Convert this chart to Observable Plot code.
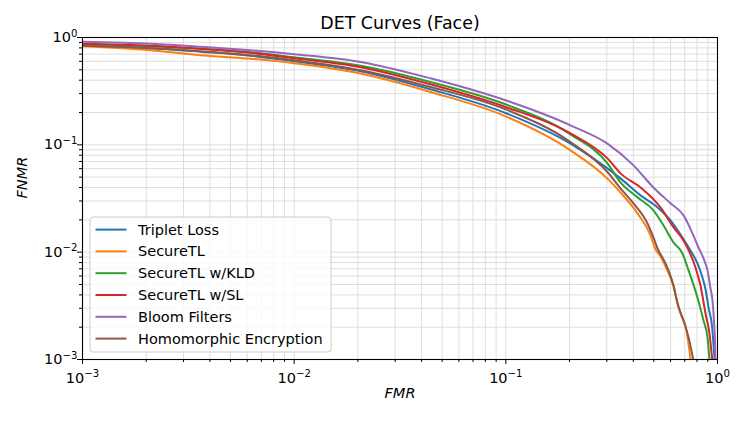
<!DOCTYPE html>
<html><head><meta charset="utf-8">
<script src="https://cdn.jsdelivr.net/npm/d3@7"></script>
<script src="https://cdn.jsdelivr.net/npm/@observablehq/plot@0.6"></script>
<style>
body{margin:0;background:#fff;}
#chart svg{font-family:"DejaVu Sans";}
</style>
</head><body><div id="chart"></div>
<script>
// ---- data ----
const seriesNames = ["Triplet Loss","SecureTL","SecureTL w/KLD","SecureTL w/SL","Bloom Filters","Homomorphic Encryption"];
const seriesColors = ["#1f77b4","#ff7f0e","#2ca02c","#d62728","#9467bd","#8c564b"];

const tripletFMR  = [0.001,0.0021,0.0036,0.0062,0.010,0.0206,0.044,0.0996,0.202,0.302,0.348,0.433,0.521,0.600,0.683,0.7455,0.804,0.849,0.878,0.907,0.944,0.968];
const tripletFNMR = [0.8386,0.7947,0.7372,0.6764,0.6011,0.4849,0.3294,0.1980,0.1026,0.0604,0.0487,0.0338,0.0261,0.0198,0.01371,0.01037,0.00785,0.00581,0.00449,0.00305,0.00198,0.001];

const secureFMR  = [0.001,0.0021,0.0036,0.0062,0.010,0.0206,0.044,0.0996,0.202,0.302,0.348,0.419,0.4825,0.510,0.538,0.580,0.613,0.640,0.669,0.714,0.7455];
const secureFNMR = [0.8295,0.7613,0.6837,0.6342,0.5757,0.4613,0.3109,0.1844,0.0889,0.0484,0.0360,0.0230,0.01432,0.01059,0.00912,0.00675,0.00510,0.00370,0.00268,0.00186,0.001];

const kldFMR  = [0.001,0.0021,0.0036,0.0062,0.010,0.0206,0.044,0.0996,0.202,0.302,0.348,0.419,0.498,0.556,0.620,0.683,0.722,0.804,0.859,0.897,0.9165];
const kldFNMR = [0.866,0.8295,0.786,0.7293,0.6549,0.5455,0.3853,0.2386,0.1253,0.0672,0.0447,0.0324,0.0245,0.0177,0.01231,0.00972,0.00720,0.00378,0.00231,0.00160,0.001];

const slFMR  = [0.001,0.0021,0.0036,0.0062,0.010,0.0206,0.044,0.0996,0.202,0.302,0.348,0.433,0.538,0.620,0.691,0.7455,0.787,0.831,0.878,0.9165,0.944];
const slFNMR = [0.875,0.8386,0.786,0.7215,0.6411,0.5283,0.3667,0.2252,0.1280,0.0748,0.0542,0.0401,0.0261,0.0170,0.01285,0.00952,0.00720,0.00489,0.00268,0.00174,0.001];

const bloomFMR  = [0.001,0.0021,0.0036,0.0062,0.010,0.0206,0.044,0.0996,0.202,0.302,0.401,0.498,0.600,0.691,0.762,0.813,0.859,0.897,0.927,0.947,0.9625,0.973,0.978];
const bloomFNMR = [0.914,0.875,0.821,0.761,0.699,0.592,0.417,0.260,0.152,0.1026,0.0644,0.0401,0.0285,0.0220,0.01494,0.01106,0.00874,0.00675,0.00459,0.00354,0.00231,0.00150,0.001];

const heFMR  = [0.001,0.0021,0.0036,0.0062,0.010,0.0206,0.044,0.0996,0.202,0.302,0.348,0.401,0.467,0.498,0.526,0.556,0.587,0.620,0.647,0.691,0.730,0.768];
const heFNMR = [0.8386,0.7947,0.7452,0.6837,0.6141,0.4955,0.3460,0.2144,0.1062,0.0558,0.0393,0.0285,0.0185,0.01371,0.01037,0.00855,0.00675,0.00489,0.00332,0.00231,0.00160,0.001];

const majorTicks = [0.001, 0.01, 0.1, 1];
const majorTickLabels = ["10^-3","10^-2","10^-1","10^0"];
const minorMultipliers = [2,3,4,5,6,7,8,9];

const titleText = "DET Curves (Face)";
const xLabel = "FMR";
const yLabel = "FNMR";

// ---- build tables ----
const seriesData = [
  [tripletFMR, tripletFNMR],
  [secureFMR, secureFNMR],
  [kldFMR, kldFNMR],
  [slFMR, slFNMR],
  [bloomFMR, bloomFNMR],
  [heFMR, heFNMR]
];
const rows = seriesNames.flatMap((name, k) =>
  seriesData[k][0].map((x, i) => ({series: name, fmr: x, fnmr: seriesData[k][1][i]})));
const minorTicks = majorTicks.slice(0, -1).flatMap(t => minorMultipliers.map(m => m * t));
const gridTicks = [...majorTicks, ...minorTicks];
const labelFor = v => majorTickLabels[majorTicks.indexOf(v)] ?? "";

const W = 747, H = 427;
const mL = 82, mR = 30, mT = 37, mB = 68;
const FS = 14.5;

const chart = Plot.plot({
  width: W, height: H,
  marginLeft: mL, marginRight: mR, marginTop: mT, marginBottom: mB,
  style: {fontFamily: "DejaVu Sans", fontSize: FS + "px", background: "white", color: "black"},
  x: {type: "log", domain: [1e-3, 1]},
  y: {type: "log", domain: [1e-3, 1]},
  color: {domain: seriesNames, range: seriesColors},
  marks: [
    Plot.ruleX(gridTicks, {stroke: "#dedede", strokeWidth: 1}),
    Plot.ruleY(gridTicks, {stroke: "#dedede", strokeWidth: 1}),
    Plot.line(rows, {x: "fmr", y: "fnmr", z: "series", stroke: "series", strokeWidth: 2, curve: "monotone-x", clip: true}),
    Plot.frame({stroke: "black", strokeWidth: 1.1}),
    Plot.axisX(majorTicks, {tickSize: 5, tickPadding: 8, tickFormat: labelFor, label: null, fontSize: FS}),
    Plot.axisX(minorTicks, {tickSize: 3, tickFormat: () => "", label: null}),
    Plot.axisY(majorTicks, {tickSize: 5, tickPadding: 0, tickFormat: labelFor, label: null, fontSize: FS}),
    Plot.axisY(minorTicks, {tickSize: 3, tickFormat: () => "", label: null}),
    Plot.text([titleText], {frameAnchor: "top", dy: -9, lineAnchor: "bottom", fontSize: FS * 1.2}),
    Plot.text([xLabel], {frameAnchor: "bottom", dy: 38, fontStyle: "italic", fontSize: FS}),
    Plot.text([yLabel], {frameAnchor: "left", dx: -60, rotate: -90, fontStyle: "italic", fontSize: FS})
  ]
});

// superscript tick labels like matplotlib's mathtext
d3.select(chart).selectAll("text").each(function() {
  const t = this.textContent;
  const m = /^10\^(-?\d+)$/.exec(t);
  if (!m) return;
  const el = d3.select(this);
  el.text("");
  el.append("tspan").text("10");
  el.append("tspan").attr("dy", -0.39 * FS).attr("font-size", 0.7 * FS)
    .text(m[1].replace("-", "\u2212"));
});

// legend (matplotlib style, lower left inside the axes)
const svg = d3.select(chart);
const lg = svg.append("g").attr("font-family", "DejaVu Sans").attr("font-size", FS).attr("text-anchor", "start");
const boxX = mL + 8, boxW = 241, rowH = 21.8, boxH = 135;
const boxY = H - mB - 7 - boxH;
lg.append("rect").attr("x", boxX).attr("y", boxY).attr("width", boxW).attr("height", boxH)
  .attr("rx", 3).attr("fill", "white").attr("fill-opacity", 0.8).attr("stroke", "#cccccc").attr("stroke-width", 1);
seriesNames.forEach((name, i) => {
  const yy = boxY + 12.6 + i * rowH;
  lg.append("line").attr("x1", boxX + 5.5).attr("x2", boxX + 36.5).attr("y1", yy).attr("y2", yy)
    .attr("stroke", seriesColors[i]).attr("stroke-width", 2);
  lg.append("text").attr("x", boxX + 48).attr("y", yy).attr("dy", "0.35em")
    .attr("text-anchor", "start").attr("fill", "black").text(name);
});

document.getElementById("chart").appendChild(chart);
</script>
</body></html>
